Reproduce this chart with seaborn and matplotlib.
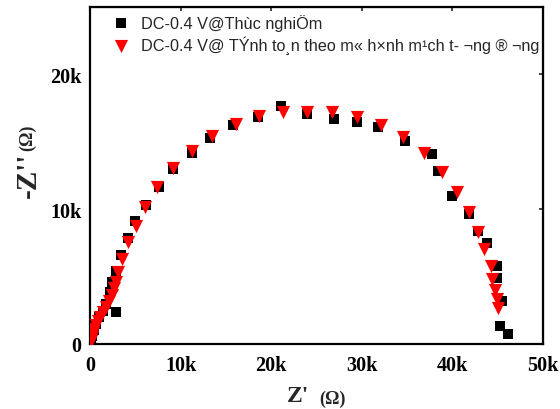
import pandas as pd
import seaborn as sns
import matplotlib.pyplot as plt

# legend labels (legacy TCVN3 text as shown in the figure)
exp_label = "DC-0.4 V@Thùc nghiÖm"
fit_label = "DC-0.4 V@ TÝnh to¸n theo m« h×nh m¹ch t- ¬ng ® ¬ng"

# experimental Nyquist data (Z', -Z'')
exp_zre = [110, 220, 440, 660, 990, 1430, 2870, 1770, 2210, 2430,
           2870, 3420, 4200, 4970, 6180, 7620, 9160, 11260, 13250, 15790,
           18550, 21090, 23960, 26940, 29480, 31800, 34780, 37760, 38420, 39970,
           41840, 42840, 43830, 44930, 44930, 45490, 45260, 46150]
exp_zim = [220, 590, 1040, 1480, 2000, 2440, 2370, 2960, 3850, 4590,
           5410, 6590, 7850, 9110, 10300, 11630, 12960, 14150, 15260, 16220,
           16820, 17630, 17040, 16670, 16440, 16070, 15040, 14070, 12820, 10960,
           9630, 8370, 7480, 5780, 4890, 3190, 1330, 740]

# equivalent-circuit fit
fit_zre = [110, 220, 330, 440, 660, 880, 1100, 1440, 1770, 2100,
           2430, 2650, 2870, 3090, 3530, 4200, 5080, 6070, 7400, 9160,
           11260, 13470, 16120, 18660, 21310, 23960, 26720, 29480, 32130, 34560,
           36870, 38860, 40520, 41840, 42840, 43500, 44270, 44380, 44710, 44930,
           45040]
fit_zim = [220, 520, 810, 1110, 1410, 1700, 2000, 2370, 2740, 3190,
           3630, 4150, 4590, 5330, 6300, 7560, 8740, 10150, 11630, 13040,
           14300, 15410, 16300, 16890, 17190, 17190, 17190, 16810, 16220, 15330,
           14150, 12740, 11260, 9780, 8300, 7040, 5780, 4810, 4000, 3330,
           2670]

x_ticks = [0, 10000, 20000, 30000, 40000, 50000]
x_tick_labels = ["0", "10k", "20k", "30k", "40k", "50k"]
y_ticks = [0, 10000, 20000]
y_tick_labels = ["0", "10k", "20k"]

df_exp = pd.DataFrame({"zre": exp_zre, "zim": exp_zim})
df_fit = pd.DataFrame({"zre": fit_zre, "zim": fit_zim})

sns.set_style("white")
serif_bold = dict(family="Liberation Serif", weight="bold")

fig = plt.figure(figsize=(5.6, 4.1), dpi=100)
ax = fig.add_axes([90 / 560, 1 - 345 / 410, 453 / 560, 337 / 410])

sns.scatterplot(data=df_exp, x="zre", y="zim", marker="s", color="black",
                s=52, linewidth=0, label=exp_label, ax=ax, zorder=3)
sns.scatterplot(data=df_fit, x="zre", y="zim", marker="v", color="red",
                s=90, linewidth=0, label=fit_label, ax=ax, zorder=4)

ax.set_xlim(0, 50000)
ax.set_ylim(0, 25000)
ax.set_xlabel("")
ax.set_ylabel("")

ax.set_xticks(x_ticks, labels=x_tick_labels)
ax.set_yticks(y_ticks, labels=y_tick_labels)
for lab in ax.get_xticklabels() + ax.get_yticklabels():
    lab.set_fontfamily("Liberation Serif")
    lab.set_fontweight("bold")
    lab.set_fontsize(14.5)
ax.tick_params(direction="out", length=5, width=1.5, colors="black")
ax.tick_params(axis="x", pad=3)
ax.tick_params(axis="y", pad=1)

for sp in ax.spines.values():
    sp.set_linewidth(1.6)
    sp.set_color("black")

# mirrored inward ticks on top and right
top = ax.secondary_xaxis("top")
top.set_xticks(x_ticks, labels=[""] * len(x_ticks))
top.tick_params(direction="in", length=3, width=1.2)
right = ax.secondary_yaxis("right")
right.set_yticks(y_ticks, labels=[""] * len(y_ticks))
right.tick_params(direction="in", length=3, width=1.2)

# axis titles
fig.text(287 / 560, 1 - 402 / 410, "Z'", fontsize=17, ha="left",
         va="baseline", **serif_bold)
fig.text(319 / 560, 1 - 404 / 410, "(Ω)", fontsize=13, ha="left",
         va="baseline", **serif_bold)
fig.text(28 / 560, 1 - 152 / 410, "-Z''", fontsize=21, rotation=90,
         ha="center", va="top", **serif_bold)
fig.text(28 / 560, 1 - 151 / 410, "(Ω)", fontsize=13, rotation=90,
         ha="center", va="bottom", **serif_bold)

ax.legend(loc="upper left", bbox_to_anchor=(0.05, 0.98), frameon=False,
          borderaxespad=0, borderpad=0, handlelength=1.0, handletextpad=0.75,
          labelspacing=0.3, prop=dict(family="Liberation Sans", size=11.7))

fig.savefig("out.png", dpi=100, facecolor="white")
